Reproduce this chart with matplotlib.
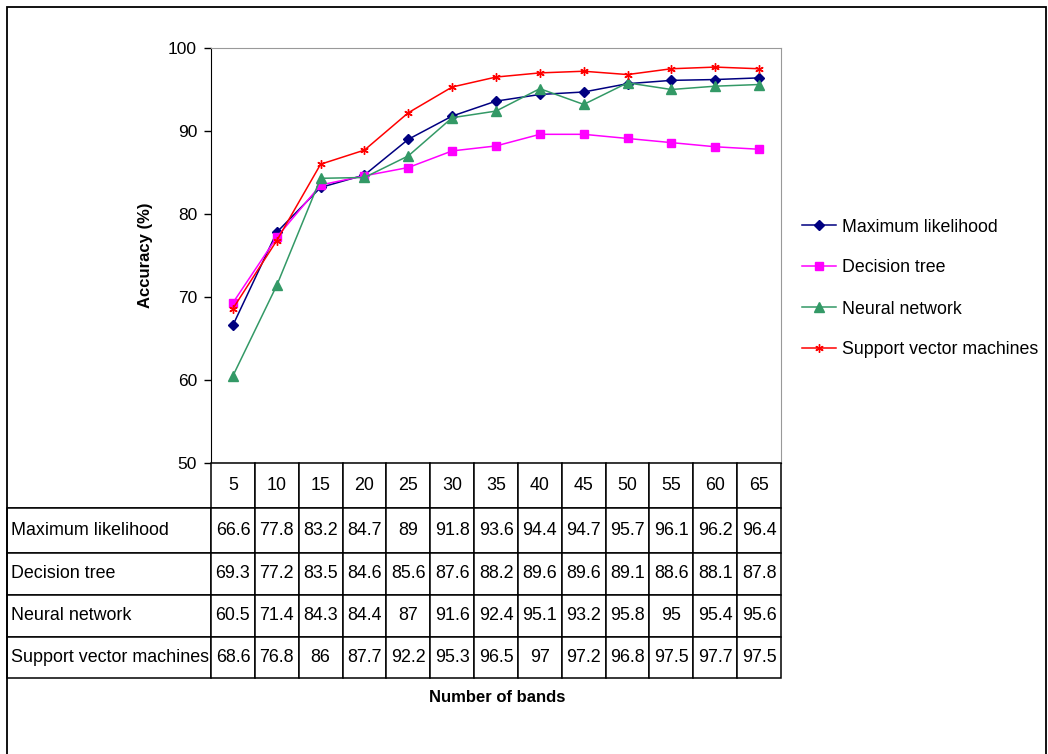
import matplotlib
matplotlib.use("Agg")
import matplotlib.pyplot as plt
from matplotlib.table import Table
from matplotlib.patches import Rectangle

plt.rcParams['font.family'] = ['Liberation Sans', 'DejaVu Sans']

bands = [5, 10, 15, 20, 25, 30, 35, 40, 45, 50, 55, 60, 65]
max_likelihood = [66.6, 77.8, 83.2, 84.7, 89, 91.8, 93.6, 94.4, 94.7, 95.7, 96.1, 96.2, 96.4]
decision_tree = [69.3, 77.2, 83.5, 84.6, 85.6, 87.6, 88.2, 89.6, 89.6, 89.1, 88.6, 88.1, 87.8]
neural_network = [60.5, 71.4, 84.3, 84.4, 87, 91.6, 92.4, 95.1, 93.2, 95.8, 95, 95.4, 95.6]
svm = [68.6, 76.8, 86, 87.7, 92.2, 95.3, 96.5, 97, 97.2, 96.8, 97.5, 97.7, 97.5]

names = ["Maximum likelihood", "Decision tree", "Neural network", "Support vector machines"]
series = [max_likelihood, decision_tree, neural_network, svm]
colors = ["#000080", "#FF00FF", "#339966", "#FF0000"]
markers = ["D", "s", "^", (6, 2, 0)]
msizes = [5, 5.5, 6.5, 6]

W, H = 1048, 754
fig = plt.figure(figsize=(W / 100, H / 100), dpi=100)

# plot area
ax = fig.add_axes([211 / W, (H - 463) / H, 570 / W, 415 / H])
handles = []
for vals, name, c, m, ms in zip(series, names, colors, markers, msizes):
    ln, = ax.plot(bands, vals, color=c, marker=m, markersize=ms, lw=1.1,
                  markeredgewidth=1.0, label=name)
    handles.append(ln)

ax.set_xlim(2.5, 67.5)
ax.set_ylim(50, 100)
ax.set_yticks([50, 60, 70, 80, 90, 100])
ax.set_xticks([])
ax.tick_params(axis='y', direction='out', length=5, width=1, pad=5, labelsize=12.5)
for s in ['top', 'right']:
    ax.spines[s].set_color('#999999')
for s in ['left', 'bottom']:
    ax.spines[s].set_color('black')
ax.set_ylabel("Accuracy (%)", fontsize=12, fontweight='bold', labelpad=11)

# data table under the plot
tax = fig.add_axes([7 / W, (H - 678) / H, (781 - 7) / W, (678 - 463) / H])
tax.axis('off')
col_w = [204] + [570 / 13] * 13
tot = sum(col_w)
col_w = [w / tot for w in col_w]
row_px = [45, 45, 42, 42, 41]
row_h = [h / sum(row_px) for h in row_px]
tbl = Table(tax, bbox=[0, 0, 1, 1])
hdr = [""] + [str(b) for b in bands]
for j, txt in enumerate(hdr):
    cell = tbl.add_cell(0, j, col_w[j], row_h[0], text=txt, loc='center',
                        edgecolor='black', facecolor='white')
    if j == 0:
        cell.visible_edges = 'B'
for i, (name, vals) in enumerate(zip(names, series), start=1):
    cell = tbl.add_cell(i, 0, col_w[0], row_h[i], text=name, loc='left',
                        edgecolor='black', facecolor='white')
    cell.PAD = 0.02
    for j, v in enumerate(vals, start=1):
        tbl.add_cell(i, j, col_w[j], row_h[i], text=f"{v:g}", loc='center',
                     edgecolor='black', facecolor='white')
tbl.auto_set_font_size(False)
tbl.set_fontsize(12.9)
for cell in tbl.get_celld().values():
    cell.set_linewidth(1.1)
tax.add_table(tbl)

fig.text(497 / W, 1 - 698 / H, "Number of bands", fontsize=12, fontweight='bold',
         ha='center', va='center')

fig.legend(handles, names, loc='center left',
           bbox_to_anchor=(802 / W, 1 - 288.5 / H), frameon=False,
           fontsize=12.8, handlelength=1.9, handletextpad=0.35,
           labelspacing=1.35, borderpad=0, borderaxespad=0)

# outer frame
fig.add_artist(Rectangle((7 / W, -0.02), (1046 - 7) / W, 1.02 - 7 / H,
                         transform=fig.transFigure, fill=False,
                         edgecolor='black', lw=1.3))

fig.savefig("out.png", dpi=100)
